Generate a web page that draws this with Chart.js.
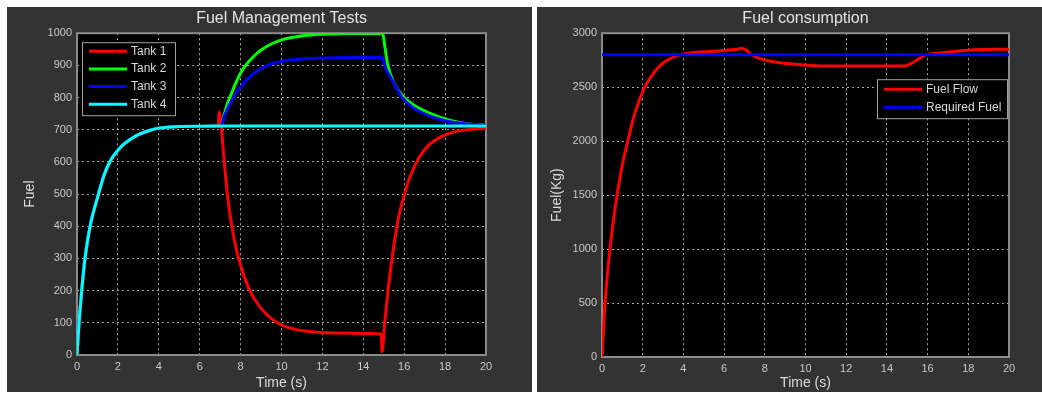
<!DOCTYPE html>
<html><head><meta charset="utf-8">
<script src="https://cdn.jsdelivr.net/npm/chart.js@4.4.1/dist/chart.umd.min.js"></script>
<style>
html,body{margin:0;padding:0;background:#fff;width:1042px;height:393px;overflow:hidden}
.panel{position:absolute;top:7px;height:385px;background:#333333}
#p1{left:7px;width:525px}
#p2{left:537px;width:505px}
canvas{display:block}
</style></head><body>
<div class="panel" id="p1"><canvas id="c1" width="525" height="385" style="width:525px;height:385px"></canvas></div>
<div class="panel" id="p2"><canvas id="c2" width="505" height="385" style="width:505px;height:385px"></canvas></div>
<script>
// ---------- data ----------
const timeTicks = [0, 2, 4, 6, 8, 10, 12, 14, 16, 18, 20];
const tankTicks = [0, 100, 200, 300, 400, 500, 600, 700, 800, 900, 1000];
const flowTicks = [0, 500, 1000, 1500, 2000, 2500, 3000];

const tankLabels = ['Tank 1', 'Tank 2', 'Tank 3', 'Tank 4'];
const tankColors = ['#ff0000', '#00ff00', '#0000ff', '#00ffff'];

const tank1T = [0, 0.1, 0.23, 0.39, 0.64, 1.05, 1.3, 1.6, 2.2, 2.6, 3.0, 3.5, 4.0, 5.0, 6.9, 6.95, 7.05, 7.2, 7.35, 7.6, 7.9, 8.45, 9.0, 9.8, 10.5, 11.5, 12.5, 14.88, 14.92, 15.05, 15.22, 15.42, 15.7, 16.0, 16.3, 16.7, 17.2, 17.8, 18.5, 19.2, 20];
const tank1V = [0, 100, 200, 300, 400, 500, 555, 600, 650, 670, 685, 697, 705, 710, 712, 755, 712, 600, 500, 390, 300, 200, 145, 100, 82, 72, 68, 65, 10, 103, 207, 307, 420, 496, 556, 611, 652, 678, 694, 701, 705];

const tank2T = [0, 0.1, 0.23, 0.39, 0.64, 1.05, 1.3, 1.6, 2.2, 2.6, 3.0, 3.5, 4.0, 5.0, 7.05, 7.2, 7.35, 7.55, 7.8, 8.05, 8.55, 9.05, 9.55, 10.05, 11.05, 12.05, 13.0, 14.95, 15.05, 15.2, 15.5, 16.0, 16.5, 17.3, 18.3, 19.2, 20];
const tank2V = [0, 100, 200, 300, 400, 500, 555, 600, 650, 670, 685, 697, 705, 710, 712, 748, 780, 812, 850, 882, 922, 950, 968, 980, 992, 997, 999, 1000, 960, 900, 845, 800, 775, 750, 728, 718, 714];

const tank3T = [0, 0.1, 0.23, 0.39, 0.64, 1.05, 1.3, 1.6, 2.2, 2.6, 3.0, 3.5, 4.0, 5.0, 7.05, 7.2, 7.35, 7.55, 7.8, 7.97, 8.3, 8.55, 9.05, 9.55, 10.05, 11.05, 12.05, 14.9, 15.1, 15.45, 15.9, 16.4, 16.9, 18.0, 19.2, 20];
const tank3V = [0, 100, 200, 300, 400, 500, 555, 600, 650, 670, 685, 697, 705, 710, 712, 740, 763, 790, 815, 830, 855, 870, 892, 905, 913, 920, 923, 925, 890, 850, 800, 770, 752, 728, 717, 714];

const tank4T = [0, 0.1, 0.23, 0.39, 0.64, 1.05, 1.3, 1.6, 2.2, 2.6, 3.0, 3.5, 4.0, 5.0, 7.0, 20];
const tank4V = [0, 100, 200, 300, 400, 500, 555, 600, 650, 670, 685, 697, 705, 710, 712, 712];

const flowLabels = ['Fuel Flow', 'Required Fuel'];
const flowColors = ['#ff0000', '#0000ff'];
const flowT = [0, 0.15, 0.39, 0.55, 0.74, 1.0, 1.28, 1.6, 2.1, 2.5, 2.85, 3.3, 3.83, 4.5, 5.8, 6.5, 6.86, 7.05, 7.27, 7.76, 8.3, 9.05, 10.7, 12, 14.7, 14.97, 15.2, 15.46, 15.87, 16.5, 17.3, 18.3, 20];
const flowV = [0, 500, 1000, 1250, 1500, 1780, 2010, 2250, 2500, 2620, 2700, 2760, 2800, 2820, 2836, 2848, 2858, 2850, 2812, 2765, 2740, 2719, 2697, 2695, 2695, 2700, 2720, 2750, 2796, 2815, 2830, 2846, 2852];
const reqT = [0, 20];
const reqV = [2800, 2800];

// ---------- helpers ----------
const FONT = '"Liberation Sans", Arial, sans-serif';
const pts = (t, v) => t.map((x, i) => ({x: x, y: v[i]}));

const frame = {
  id: 'frame',
  beforeDraw(chart) {
    const {ctx, chartArea: a} = chart;
    ctx.save();
    ctx.fillStyle = '#000';
    ctx.fillRect(a.left, a.top, a.right - a.left, a.bottom - a.top);
    ctx.restore();
  },
  beforeDatasetsDraw(chart) {
    const {ctx, chartArea: a} = chart;
    ctx.save();
    ctx.strokeStyle = '#8c8c8c';
    ctx.lineWidth = 2;
    ctx.strokeRect(a.left, a.top, a.right - a.left, a.bottom - a.top);
    ctx.restore();
  }
};

const boxLegend = {
  id: 'boxLegend',
  afterDatasetsDraw(chart, args, o) {
    const {ctx, chartArea: a} = chart;
    const ds = chart.data.datasets;
    const x = o.anchor === 'right' ? a.right - o.dx - o.width : a.left + o.dx;
    const y = a.top + o.dy;
    ctx.save();
    ctx.fillStyle = '#000';
    ctx.fillRect(x, y, o.width, o.height);
    ctx.strokeStyle = '#a0a0a0';
    ctx.lineWidth = 1;
    ctx.strokeRect(x + 0.5, y + 0.5, o.width, o.height);
    ctx.font = '12px ' + FONT;
    ctx.textBaseline = 'middle';
    ds.forEach((d, i) => {
      const ly = y + o.first + i * o.step;
      ctx.strokeStyle = d.borderColor;
      ctx.lineWidth = 3;
      ctx.beginPath();
      ctx.moveTo(x + 7, ly);
      ctx.lineTo(x + 45, ly);
      ctx.stroke();
      ctx.fillStyle = '#d8d8d8';
      ctx.fillText(d.label, x + 49, ly);
    });
    ctx.restore();
  }
};

function makeOptions(cfg) {
  return {
    responsive: false,
    animation: false,
    layout: {padding: {left: cfg.padLeft, right: cfg.padRight, top: 0, bottom: 0}},
    elements: {point: {radius: 0}, line: {borderWidth: 3, cubicInterpolationMode: 'monotone'}},
    plugins: {
      legend: {display: false},
      tooltip: {enabled: false},
      title: {
        display: true, text: cfg.title, color: '#e2e2e2', fullSize: false,
        font: {family: FONT, size: 16, weight: 'normal'},
        padding: {top: 2, bottom: 5}
      },
      boxLegend: cfg.legend
    },
    scales: {
      x: {
        type: 'linear', min: 0, max: 20,
        afterBuildTicks: s => { s.ticks = timeTicks.map(v => ({value: v})); },
        afterFit: s => { s.height = cfg.xHeight; },
        ticks: {color: '#c8c8c8', font: {family: FONT, size: 11}, padding: 5, maxRotation: 0, callback: v => String(v)},
        grid: {color: 'rgba(225,225,225,0.75)', lineWidth: 1, drawTicks: false},
        border: {display: false, dash: [2, 3]},
        title: {display: true, text: 'Time (s)', color: '#dcdcdc', font: {family: FONT, size: 14}, padding: {top: 0, bottom: 0}}
      },
      y: {
        type: 'linear', min: 0, max: cfg.yMax,
        afterBuildTicks: s => { s.ticks = cfg.yTicks.map(v => ({value: v})); },
        afterFit: s => { s.width = cfg.yWidth; },
        ticks: {color: '#c8c8c8', font: {family: FONT, size: 11}, padding: 5, callback: v => String(v)},
        grid: {color: 'rgba(225,225,225,0.75)', lineWidth: 1, drawTicks: false},
        border: {display: false, dash: [2, 3]},
        title: {display: true, text: cfg.yTitle, color: '#dcdcdc', font: {family: FONT, size: 14}, padding: {top: 0, bottom: 0}}
      }
    }
  };
}

new Chart(document.getElementById('c1'), {
  type: 'line',
  data: {
    datasets: [
      {label: tankLabels[0], data: pts(tank1T, tank1V), borderColor: tankColors[0], order: 3},
      {label: tankLabels[1], data: pts(tank2T, tank2V), borderColor: tankColors[1], order: 2},
      {label: tankLabels[2], data: pts(tank3T, tank3V), borderColor: tankColors[2], order: 1},
      {label: tankLabels[3], data: pts(tank4T, tank4V), borderColor: tankColors[3], order: 0}
    ]
  },
  options: makeOptions({
    title: 'Fuel Management Tests', yTitle: 'Fuel', yMax: 1000, yTicks: tankTicks,
    padLeft: 15, padRight: 46, yWidth: 55, xHeight: 37,
    legend: {anchor: 'left', dx: 5, dy: 9, width: 93, height: 73, first: 9, step: 17.7}
  }),
  plugins: [frame, boxLegend]
});

new Chart(document.getElementById('c2'), {
  type: 'line',
  data: {
    datasets: [
      {label: flowLabels[0], data: pts(flowT, flowV), borderColor: flowColors[0], order: 1},
      {label: flowLabels[1], data: pts(reqT, reqV), borderColor: flowColors[1], order: 0}
    ]
  },
  options: makeOptions({
    title: 'Fuel consumption', yTitle: 'Fuel(Kg)', yMax: 3000, yTicks: flowTicks,
    padLeft: 12, padRight: 33, yWidth: 53, xHeight: 35,
    legend: {anchor: 'right', dx: 2, dy: 46, width: 130, height: 39, first: 10, step: 18}
  }),
  plugins: [frame, boxLegend]
});
</script>
</body></html>
